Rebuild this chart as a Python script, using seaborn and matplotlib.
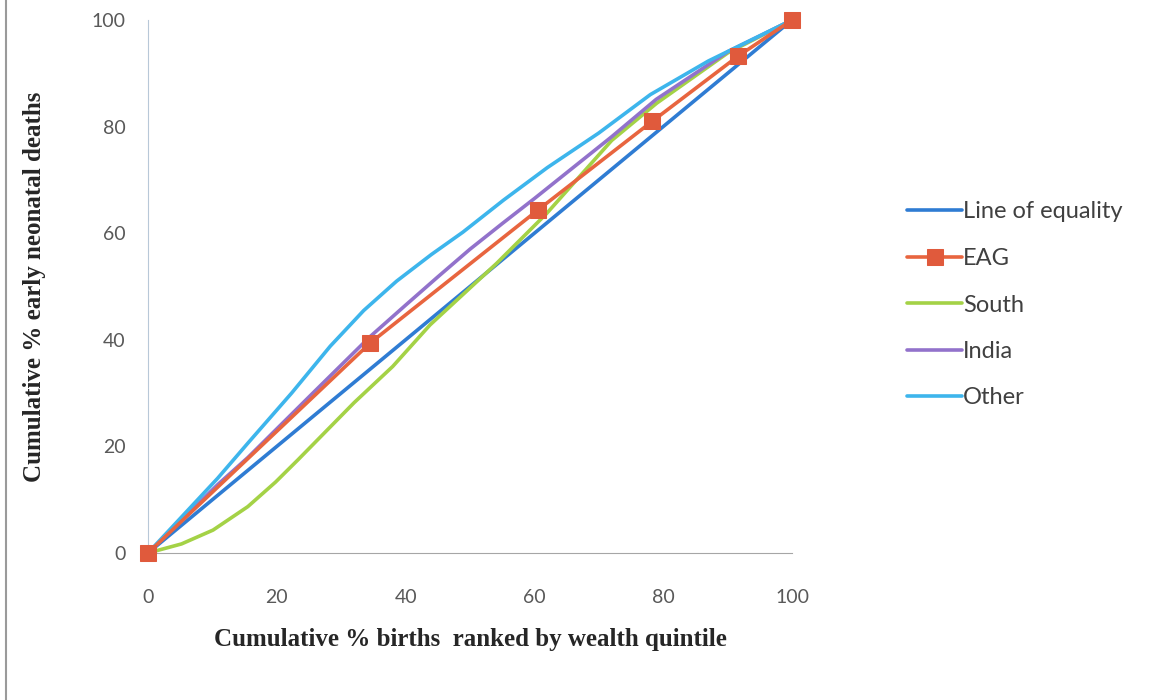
import numpy as np
import pandas as pd
import matplotlib.pyplot as plt
from matplotlib.lines import Line2D
import seaborn as sns

# values
equality_x = [0, 100]
equality_y = [0, 100]

eag_x = [0, 34.5, 60.6, 78.3, 91.6, 100]
eag_y = [0, 39.4, 64.4, 81.0, 93.2, 100]

south_x = [0, 5.2, 10.1, 15.5, 19.8, 23.3, 32.0, 38.0, 43.8, 54.1, 61.9, 72.0, 79.0, 90.0, 100]
south_y = [0, 1.7, 4.3, 8.7, 13.3, 17.5, 28.2, 35.0, 42.8, 54.3, 63.7, 77.4, 84.4, 93.8, 100]

india_x = [0, 10.8, 15.5, 25.6, 34.4, 40.0, 45.0, 50.0, 55.0, 60.0, 66.0, 72.0, 78.9, 90.1, 100]
india_y = [0, 12.8, 17.9, 30.0, 40.5, 46.5, 51.8, 57.0, 61.8, 66.5, 72.3, 78.1, 85.1, 94.1, 100]

other_x = [0, 10.8, 15.5, 22.3, 28.3, 33.5, 38.6, 44.0, 48.9, 55.2, 62.0, 70.0, 78.0, 87.0, 100]
other_y = [0, 14.0, 20.6, 30.0, 38.8, 45.5, 51.0, 56.0, 60.2, 66.2, 72.3, 78.8, 86.0, 92.3, 100]

ticks = [0, 20, 40, 60, 80, 100]

sns.set_style("white")
plt.rcParams['font.family'] = ['Lato', 'DejaVu Sans']

fig = plt.figure(figsize=(11.51, 7), dpi=100)
ax = fig.add_axes([148 / 1151, 1 - 553 / 700, (792 - 148) / 1151, (553 - 20) / 700])

lw = 2.6
sns.lineplot(x=equality_x, y=equality_y, ax=ax, color="#2F7CD3", lw=lw,
             label="Line of equality", sort=False, estimator=None)
sns.lineplot(x=eag_x, y=eag_y, ax=ax, color="#E8653F", lw=lw, marker="s",
             markersize=12, markerfacecolor="#E05A3C", markeredgecolor="#E05A3C",
             label="EAG", sort=False, estimator=None, zorder=5)
sns.lineplot(x=south_x, y=south_y, ax=ax, color="#A4D246", lw=lw,
             label="South", sort=False, estimator=None)
sns.lineplot(x=india_x, y=india_y, ax=ax, color="#9272CB", lw=lw,
             label="India", sort=False, estimator=None)
sns.lineplot(x=other_x, y=other_y, ax=ax, color="#3DB5EC", lw=lw,
             label="Other", sort=False, estimator=None)

# end markers of EAG sit on the axes corners and are not cut off
ax.lines[1].set_clip_on(False)

ax.set_xlim(0, 100)
ax.set_ylim(0, 100)
ax.set_xticks(ticks)
ax.set_yticks(ticks)
ax.tick_params(axis="both", labelsize=14, labelcolor="#595959", colors="#A6A6A6",
               length=5, width=1, direction="out")
ax.tick_params(axis="x", pad=21)
ax.tick_params(axis="y", pad=11)
for s in ["top", "right"]:
    ax.spines[s].set_visible(False)
ax.spines["left"].set_color("#B8C8D8")
ax.spines["bottom"].set_color("#A6A6A6")

ax.set_xlabel("Cumulative % births  ranked by wealth quintile", fontsize=18,
              fontweight="bold", family="Liberation Serif", color="#262626", labelpad=16)
ax.set_ylabel("Cumulative % early neonatal deaths", fontsize=18,
              fontweight="bold", family="Liberation Serif", color="#262626", labelpad=33)

ax.get_legend().remove()
handles, labels = ax.get_legend_handles_labels()
leg = fig.legend(handles, labels, loc="center left", bbox_to_anchor=(898 / 1151, 1 - 305 / 700),
                 frameon=False, fontsize=17, handlelength=2.3, handletextpad=0.05,
                 labelspacing=1.08, borderaxespad=0)
for t in leg.get_texts():
    t.set_color("#404040")

fig.add_artist(Line2D([6 / 1151, 6 / 1151], [0, 1], color="#9A9A9A", lw=1.5))

fig.savefig("out.png", dpi=100)
